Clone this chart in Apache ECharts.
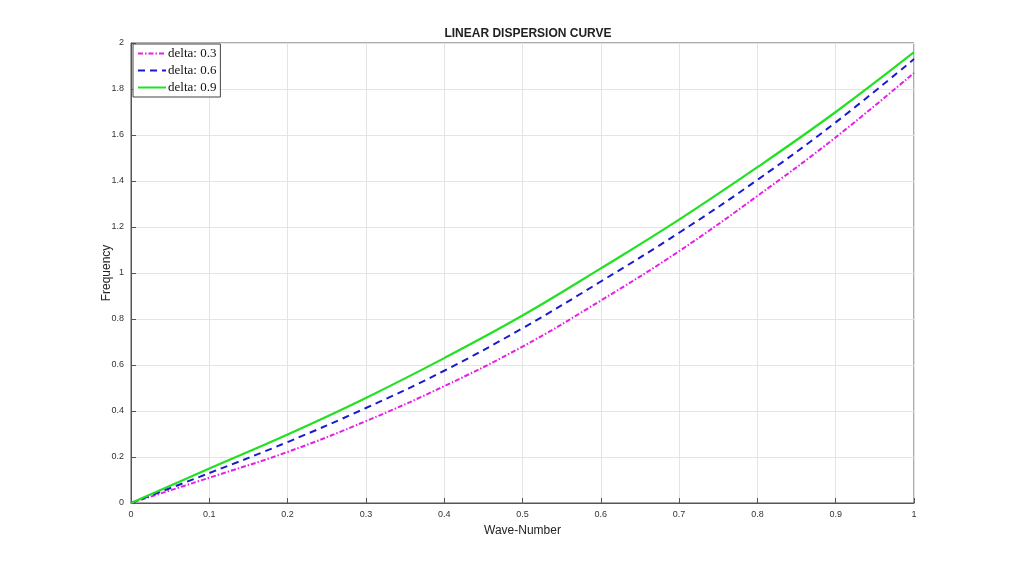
<!DOCTYPE html>
<html>
<head>
<meta charset="utf-8">
<script src="https://cdn.jsdelivr.net/npm/echarts@6/dist/echarts.min.js"></script>
<style>
  html, body { margin: 0; padding: 0; background: #fff; }
  #main { width: 1011px; height: 565px; }
</style>
</head>
<body>
<div id="main"></div>
<script>
// wave-number samples
var waveNumber = [0, 0.1, 0.2, 0.3, 0.4, 0.5, 0.6, 0.7, 0.8, 0.9, 1];
// frequency
var delta03 = [0, 0.11, 0.222, 0.356, 0.508, 0.68, 0.88, 1.095, 1.335, 1.59, 1.87];
var delta06 = [0, 0.13, 0.265, 0.413, 0.575, 0.76, 0.963, 1.175, 1.405, 1.655, 1.93];
var delta09 = [0, 0.15, 0.298, 0.457, 0.63, 0.815, 1.02, 1.232, 1.46, 1.70, 1.96];

function pairs(ys) {
    return waveNumber.map(function (x, i) { return [x, ys[i]]; });
}

var myChart = echarts.init(document.getElementById('main'));
var option = {
    animation: false,
    title: {
        text: 'LINEAR DISPERSION CURVE',
        left: 523,
        textAlign: 'center',
        top: 23,
        textStyle: { fontSize: 12, fontWeight: 'bold', color: '#222', fontFamily: 'Liberation Sans' }
    },
    legend: {
        orient: 'vertical',
        left: 133,
        top: 44,
        backgroundColor: '#fff',
        borderColor: '#444',
        borderWidth: 1,
        borderRadius: 0,
        padding: [3, 4, 3, 4],
        itemGap: 4,
        itemWidth: 28,
        itemHeight: 12,
        itemStyle: { opacity: 0 },
        textStyle: { fontSize: 13, color: '#111', fontFamily: 'Liberation Serif', padding: [0, 0, 0, -3] },
        data: ['delta: 0.3', 'delta: 0.6', 'delta: 0.9']
    },
    grid: {
        left: 131,
        right: 97,
        top: 43,
        bottom: 62,
        show: true,
        borderColor: '#555',
        borderWidth: 1
    },
    xAxis: {
        type: 'value',
        min: 0,
        max: 1,
        interval: 0.1,
        name: 'Wave-Number',
        nameLocation: 'middle',
        nameGap: 22,
        nameMoveOverlap: false,
        nameTextStyle: { fontSize: 12, color: '#222', fontFamily: 'Liberation Sans' },
        axisLine: { lineStyle: { color: '#555' } },
        axisTick: { inside: true, length: 5, lineStyle: { color: '#555' } },
        axisLabel: { fontSize: 9, color: '#333', margin: 7, formatter: function (v) { return String(Math.round(v * 10) / 10); } },
        splitLine: { show: true, lineStyle: { color: '#e4e4e4' } }
    },
    yAxis: {
        type: 'value',
        min: 0,
        max: 2,
        interval: 0.2,
        name: 'Frequency',
        nameLocation: 'middle',
        nameGap: 18,
        nameMoveOverlap: false,
        nameTextStyle: { fontSize: 12, color: '#222', fontFamily: 'Liberation Sans' },
        axisLine: { show: true, lineStyle: { color: '#555' } },
        axisTick: { inside: true, length: 5, lineStyle: { color: '#555' } },
        axisLabel: { fontSize: 9, color: '#333', margin: 7, formatter: function (v) { return String(Math.round(v * 10) / 10); } },
        splitLine: { show: true, lineStyle: { color: '#e4e4e4' } }
    },
    series: [
        {
            name: 'delta: 0.3',
            type: 'line',
            smooth: 0.4,
            symbol: 'none',
            color: '#e61ee6',
            lineStyle: { width: 2, type: [5, 2, 1.5, 2] },
            data: pairs(delta03)
        },
        {
            name: 'delta: 0.6',
            type: 'line',
            smooth: 0.4,
            symbol: 'none',
            color: '#1a1ad0',
            lineStyle: { width: 2, type: [7, 5] },
            data: pairs(delta06)
        },
        {
            name: 'delta: 0.9',
            type: 'line',
            smooth: 0.4,
            symbol: 'none',
            color: '#22e022',
            lineStyle: { width: 2.2 },
            data: pairs(delta09)
        }
    ]
};
myChart.setOption(option);
</script>
</body>
</html>
